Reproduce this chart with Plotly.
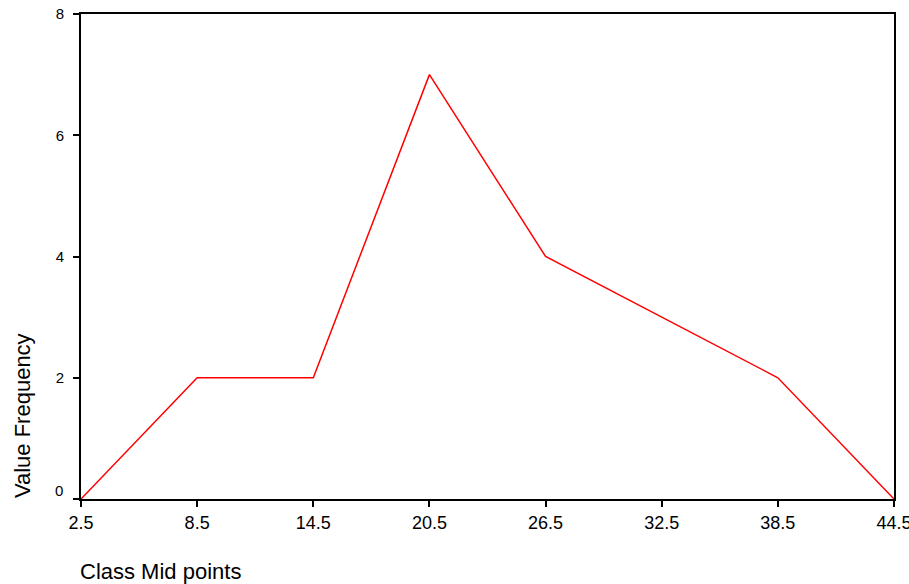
import plotly.graph_objects as go

mid_points = ["2.5", "8.5", "14.5", "20.5", "26.5", "32.5", "38.5", "44.5"]
frequency = [0, 2, 2, 7, 4, 3, 2, 0]
y_ticks = [0, 2, 4, 6, 8]

FONT = "Liberation Sans, Arial, sans-serif"

fig = go.Figure()
fig.add_trace(go.Scatter(
    x=list(range(len(mid_points))), y=frequency, mode="lines",
    line=dict(color="#ff0000", width=1.5), showlegend=False,
))

axis_common = dict(showline=True, linecolor="black", linewidth=2, mirror=True,
                   ticks="outside", ticklen=6, tickwidth=2, tickcolor="black",
                   showgrid=False, zeroline=False, automargin=False,
                   ticklabeloverflow="allow")

fig.update_xaxes(range=[0, len(mid_points) - 1], tickmode="array",
                 tickvals=list(range(len(mid_points))), ticktext=mid_points,
                 tickfont=dict(family=FONT, size=18, color="black"), **axis_common)
# "0" label is drawn separately (it sits slightly above its tick in the reference)
fig.update_yaxes(range=[0, 8], tickmode="array", tickvals=y_ticks,
                 ticktext=["" if v == 0 else str(v) for v in y_ticks],
                 ticklabelstandoff=6,
                 tickfont=dict(family=FONT, size=15, color="black"), **axis_common)

fig.add_annotation(text=str(y_ticks[0]), xref="paper", yref="y", x=0, y=y_ticks[0],
                   xanchor="right", yanchor="middle", showarrow=False,
                   xshift=-16, yshift=9,
                   font=dict(family=FONT, size=15, color="black"))

fig.add_annotation(text="Class Mid points", xref="paper", yref="paper", x=0, y=-0.1505,
                   xanchor="left", yanchor="middle", showarrow=False,
                   xshift=-3,
                   font=dict(family=FONT, size=22, color="black"))
fig.add_annotation(text="Value Frequency", xref="paper", yref="paper", x=0, y=0.171,
                   xanchor="center", yanchor="middle", showarrow=False, textangle=-90,
                   xshift=-59,
                   font=dict(family=FONT, size=22, color="black"))

fig.update_layout(width=909, height=584, plot_bgcolor="white", paper_bgcolor="white",
                  margin=dict(l=81, r=15, t=14, b=85))
fig.write_html("out.html", config={"displayModeBar": False},
               post_script="document.body.style.margin='0';")
